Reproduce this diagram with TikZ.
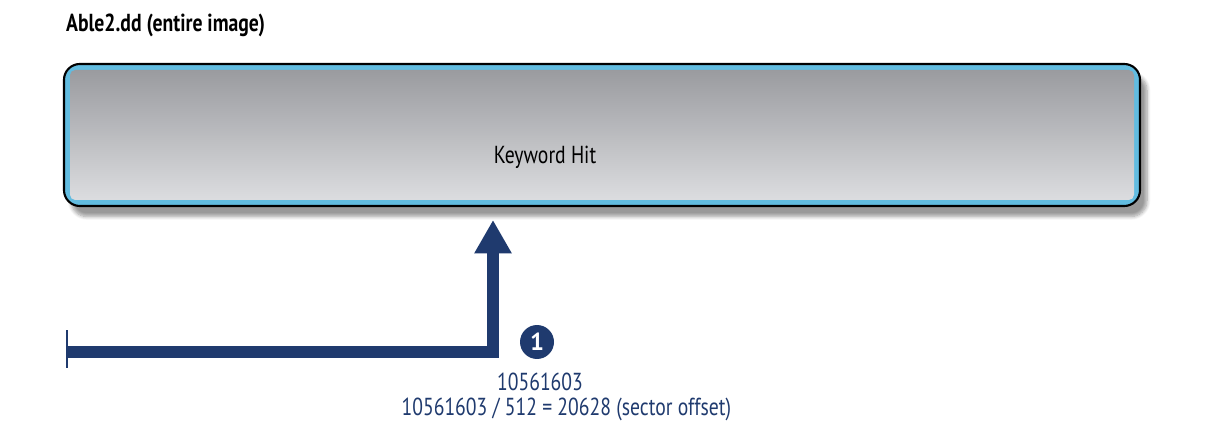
\documentclass[tikz,border=0pt]{standalone}
\usepackage{fontspec}
\setmainfont{PT Sans}
\usetikzlibrary{positioning,arrows.meta,shadows.blur}

\definecolor{navy}{HTML}{1F3A6E}
\definecolor{skyline}{HTML}{62BCE0}
\definecolor{gtop}{HTML}{9A9B9F}
\definecolor{gbot}{HTML}{DCDDE0}

\begin{document}
\begin{tikzpicture}[x=0.02cm,y=-0.02cm,
image/.style={
  draw=black,
  line width=1.2pt,
  rounded corners=9pt,
  fill=skyline,
  blur shadow={shadow xshift=4pt,shadow yshift=-6pt,shadow blur steps=8},
  },
lbl/.style={font=\fontsize{14}{16}\selectfont\addfontfeature{FakeStretch=0.8}},
marker/.style={circle,fill=navy,text=white,inner sep=0,minimum size=0.68cm,
  font=\bfseries\fontsize{14}{14}\selectfont},
>=Triangle]
\useasboundingbox (0,0) rectangle (1226,425);

% title
\node[anchor=west,font=\bfseries\fontsize{14}{16}\selectfont\addfontfeature{FakeStretch=0.8}] (title) at (60,25) {Able2.dd (entire image)};

% disk image
\draw[image] (64,64) rectangle (1140,206);
\shade[top color=gtop,bottom color=gbot,rounded corners=3pt] (70,70) rectangle (1134,200);
\node[lbl] (hit) at (545,157) {Keyword Hit};

% offset pointer
\coordinate (start) at (67,352);
\coordinate (corner) at (493,352);
\coordinate (tip) at (493,220);
\draw[navy,line width=6.8pt] (start) -- (corner) -- ([yshift=-0.5cm]tip);
\draw[navy,line width=6.8pt,-{Triangle[width=20pt,length=19pt]}] (corner) -- (tip);
\draw[navy,line width=1.7pt] (67,330) -- (67,368);

\node[marker] (one) at (537,342) {1};
\node[lbl,text=navy] (offset) at (540,382) {10561603};
\node[lbl,text=navy,below=-3pt of offset,xshift=15pt] (sector) {10561603 / 512 = 20628 (sector offset)};
\end{tikzpicture}
\end{document}
